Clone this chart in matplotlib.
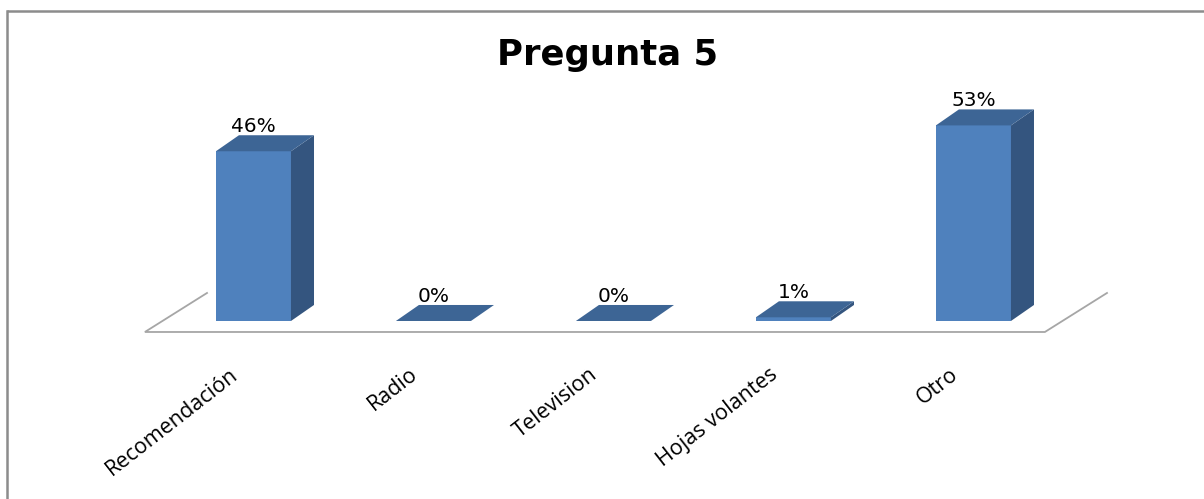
import matplotlib
matplotlib.use('Agg')
import matplotlib.pyplot as plt
from matplotlib.patches import Polygon
from matplotlib.lines import Line2D

categories = ['Recomendación', 'Radio', 'Television', 'Hojas volantes', 'Otro']
values = [46, 0, 0, 1, 53]
value_labels = ['46%', '0%', '0%', '1%', '53%']
title = 'Pregunta 5'

FRONT = '#4f81bd'
SIDE = '#34557f'
TOP = '#3d6595'
FLOOR = '#a6a6a6'

BAR_W = 0.417   # front face width, category units
DEPTH_X = 0.128
DEPTH_Y = 4.34  # in percent units

fig = plt.figure(figsize=(12.04, 4.99), dpi=100)
ax = fig.add_axes([0, 0, 1, 1])
ax.set_xlim(-1.408, 5.281)
ax.set_ylim(-48.24, 86.99)
ax.axis('off')

# floor outline: front edge plus the two short side edges
fl_y0, fl_y1 = -2.98, 7.59
fl_x0, fl_x1, fl_dx = -0.603, 4.397, 0.345
ax.plot([fl_x0 + fl_dx, fl_x0, fl_x1, fl_x1 + fl_dx], [fl_y1, fl_y0, fl_y0, fl_y1],
        color=FLOOR, lw=1.3, solid_joinstyle='miter')

for i, v in enumerate(values):
    x0, x1 = i - BAR_W / 2, i + BAR_W / 2
    if v > 0:
        ax.add_patch(Polygon([(x0, 0), (x1, 0), (x1, v), (x0, v)], closed=True,
                             facecolor=FRONT, edgecolor='none'))
        ax.add_patch(Polygon([(x1, 0), (x1 + DEPTH_X, DEPTH_Y), (x1 + DEPTH_X, v + DEPTH_Y), (x1, v)],
                             closed=True, facecolor=SIDE, edgecolor='none'))
    ax.add_patch(Polygon([(x0, v), (x1, v), (x1 + DEPTH_X, v + DEPTH_Y), (x0 + DEPTH_X, v + DEPTH_Y)],
                         closed=True, facecolor=TOP, edgecolor='none'))
    ax.text(i, v + DEPTH_Y + 2.4, value_labels[i], ha='center', va='center',
            fontsize=14.5, family='DejaVu Sans', color='black')
    ax.text(i - 0.1, -13.8, categories[i], ha='right', va='center', rotation=38,
            rotation_mode='anchor', fontsize=15.5, family='Open Sans', color='black')

fig.text(0.5045, 1 - 65 / 499, title, ha='center', va='baseline',
         fontsize=25.5, fontweight='bold', family='DejaVu Sans')

# outer frame, right and bottom edges fall outside the picture
fig.add_artist(Line2D([6.5 / 1204, 1], [1 - 11 / 499, 1 - 11 / 499], transform=fig.transFigure,
                      color='#8c8c8c', lw=1.8, solid_capstyle='butt'))
fig.add_artist(Line2D([6.5 / 1204, 6.5 / 1204], [0, 1 - 11 / 499], transform=fig.transFigure,
                      color='#8c8c8c', lw=1.8, solid_capstyle='projecting'))

fig.savefig('out.png', dpi=100, facecolor='white')
